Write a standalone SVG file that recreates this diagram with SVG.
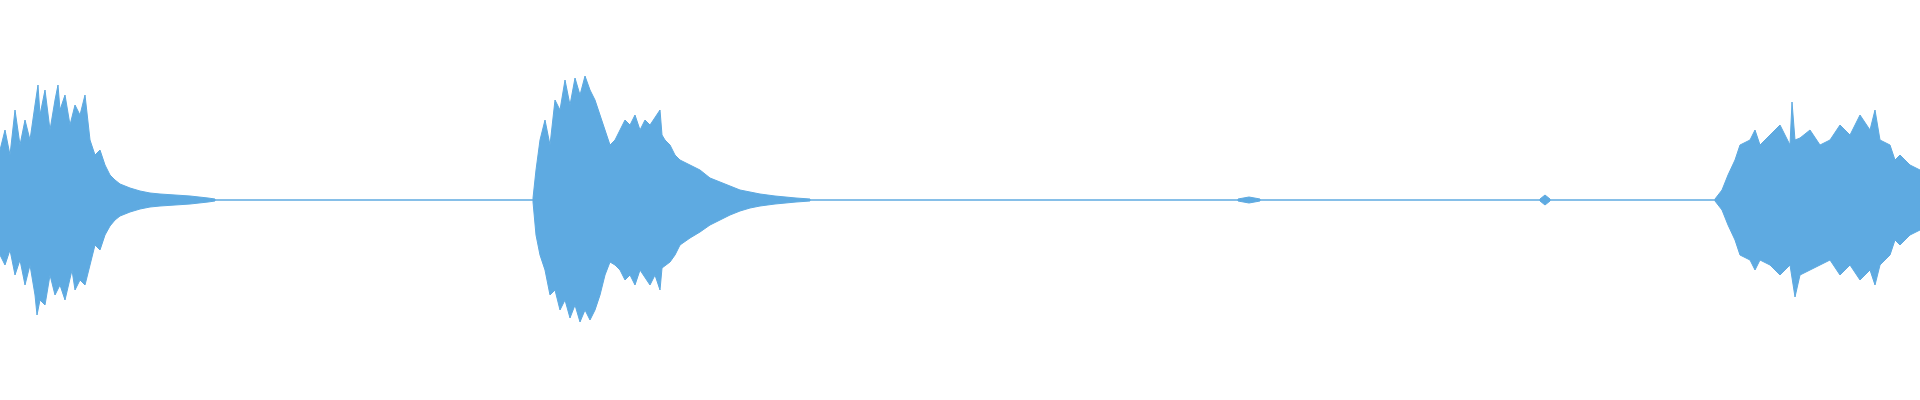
<svg xmlns="http://www.w3.org/2000/svg" width="1920" height="400" viewBox="0 0 1920 400">
<style>.w{fill:#5eaae1;stroke:#5eaae1;stroke-width:1;stroke-linejoin:bevel}</style>
<rect width="1920" height="400" fill="#fff"/>
<line x1="0" y1="200" x2="1920" y2="200" stroke="#5eaae1" stroke-width="1.6"/>
<g id="burst1"><path class="w" d="M0,150 L5,130 L10,155 L15,110 L20,145 L25,120 L30,140 L35,105 L38,85 L40,115 L45,90 L50,130 L55,100 L58,85 L60,110 L65,95 L70,125 L75,105 L80,115 L85,95 L90,140 L95,155 L100,150 L105,165 L110,175 L115,180 L120,184 L130,188 L140,191 L150,193 L160,194 L175,195 L190,196 L208,198 L215,199 L215,201 L208,202 L190,204 L175,205 L160,206 L150,207 L140,209 L130,212 L120,216 L115,220 L110,226 L105,235 L100,250 L95,245 L90,265 L85,285 L80,280 L75,290 L72,270 L65,300 L60,285 L55,295 L50,275 L45,305 L40,300 L37,315 L35,295 L30,265 L25,285 L20,260 L15,275 L10,250 L5,265 L0,255 Z"/></g>
<g id="burst2"><path class="w" d="M533,198 L536,170 L540,140 L545,120 L550,145 L555,100 L560,110 L565,80 L570,105 L575,78 L580,95 L585,76 L590,90 L595,100 L600,115 L605,130 L610,145 L615,140 L620,130 L625,120 L630,125 L635,115 L640,130 L645,120 L650,125 L660,110 L662,135 L665,140 L670,145 L675,155 L680,160 L690,165 L700,170 L710,178 L720,182 L730,186 L740,190 L750,192 L760,194 L775,196 L796,198 L810,199 L810,201 L796,202 L775,204 L760,206 L750,208 L740,211 L730,215 L720,220 L710,225 L700,232 L690,238 L680,245 L675,255 L670,262 L662,268 L660,290 L655,275 L650,285 L640,270 L635,285 L630,275 L625,280 L620,270 L615,265 L610,262 L605,275 L600,295 L595,310 L590,320 L585,310 L580,322 L575,305 L570,318 L565,300 L560,310 L555,290 L550,295 L545,270 L540,255 L536,235 L533,202 Z"/></g>
<g id="blips"><path class="w" d="M1238,199 L1249,197 L1260,199 L1260,201 L1249,203 L1238,201 Z M1540,199 L1545,195 L1550,199 L1550,201 L1545,205 L1540,201 Z"/></g>
<g id="burst3"><path class="w" d="M1715,199 L1722,190 L1728,175 L1735,160 L1740,145 L1750,140 L1755,130 L1760,145 L1770,135 L1780,125 L1790,145 L1792,102 L1795,140 L1800,138 L1810,130 L1820,145 L1830,140 L1840,125 L1850,135 L1860,115 L1870,130 L1875,110 L1880,140 L1890,145 L1895,160 L1900,155 L1910,165 L1920,170 L1920,230 L1910,235 L1900,245 L1895,240 L1890,255 L1880,265 L1875,285 L1870,270 L1860,280 L1850,265 L1840,275 L1830,260 L1820,265 L1810,270 L1800,275 L1795,297 L1790,265 L1780,275 L1770,265 L1760,260 L1755,270 L1750,260 L1740,255 L1735,240 L1728,225 L1722,210 L1715,201 Z"/></g>
</svg>
